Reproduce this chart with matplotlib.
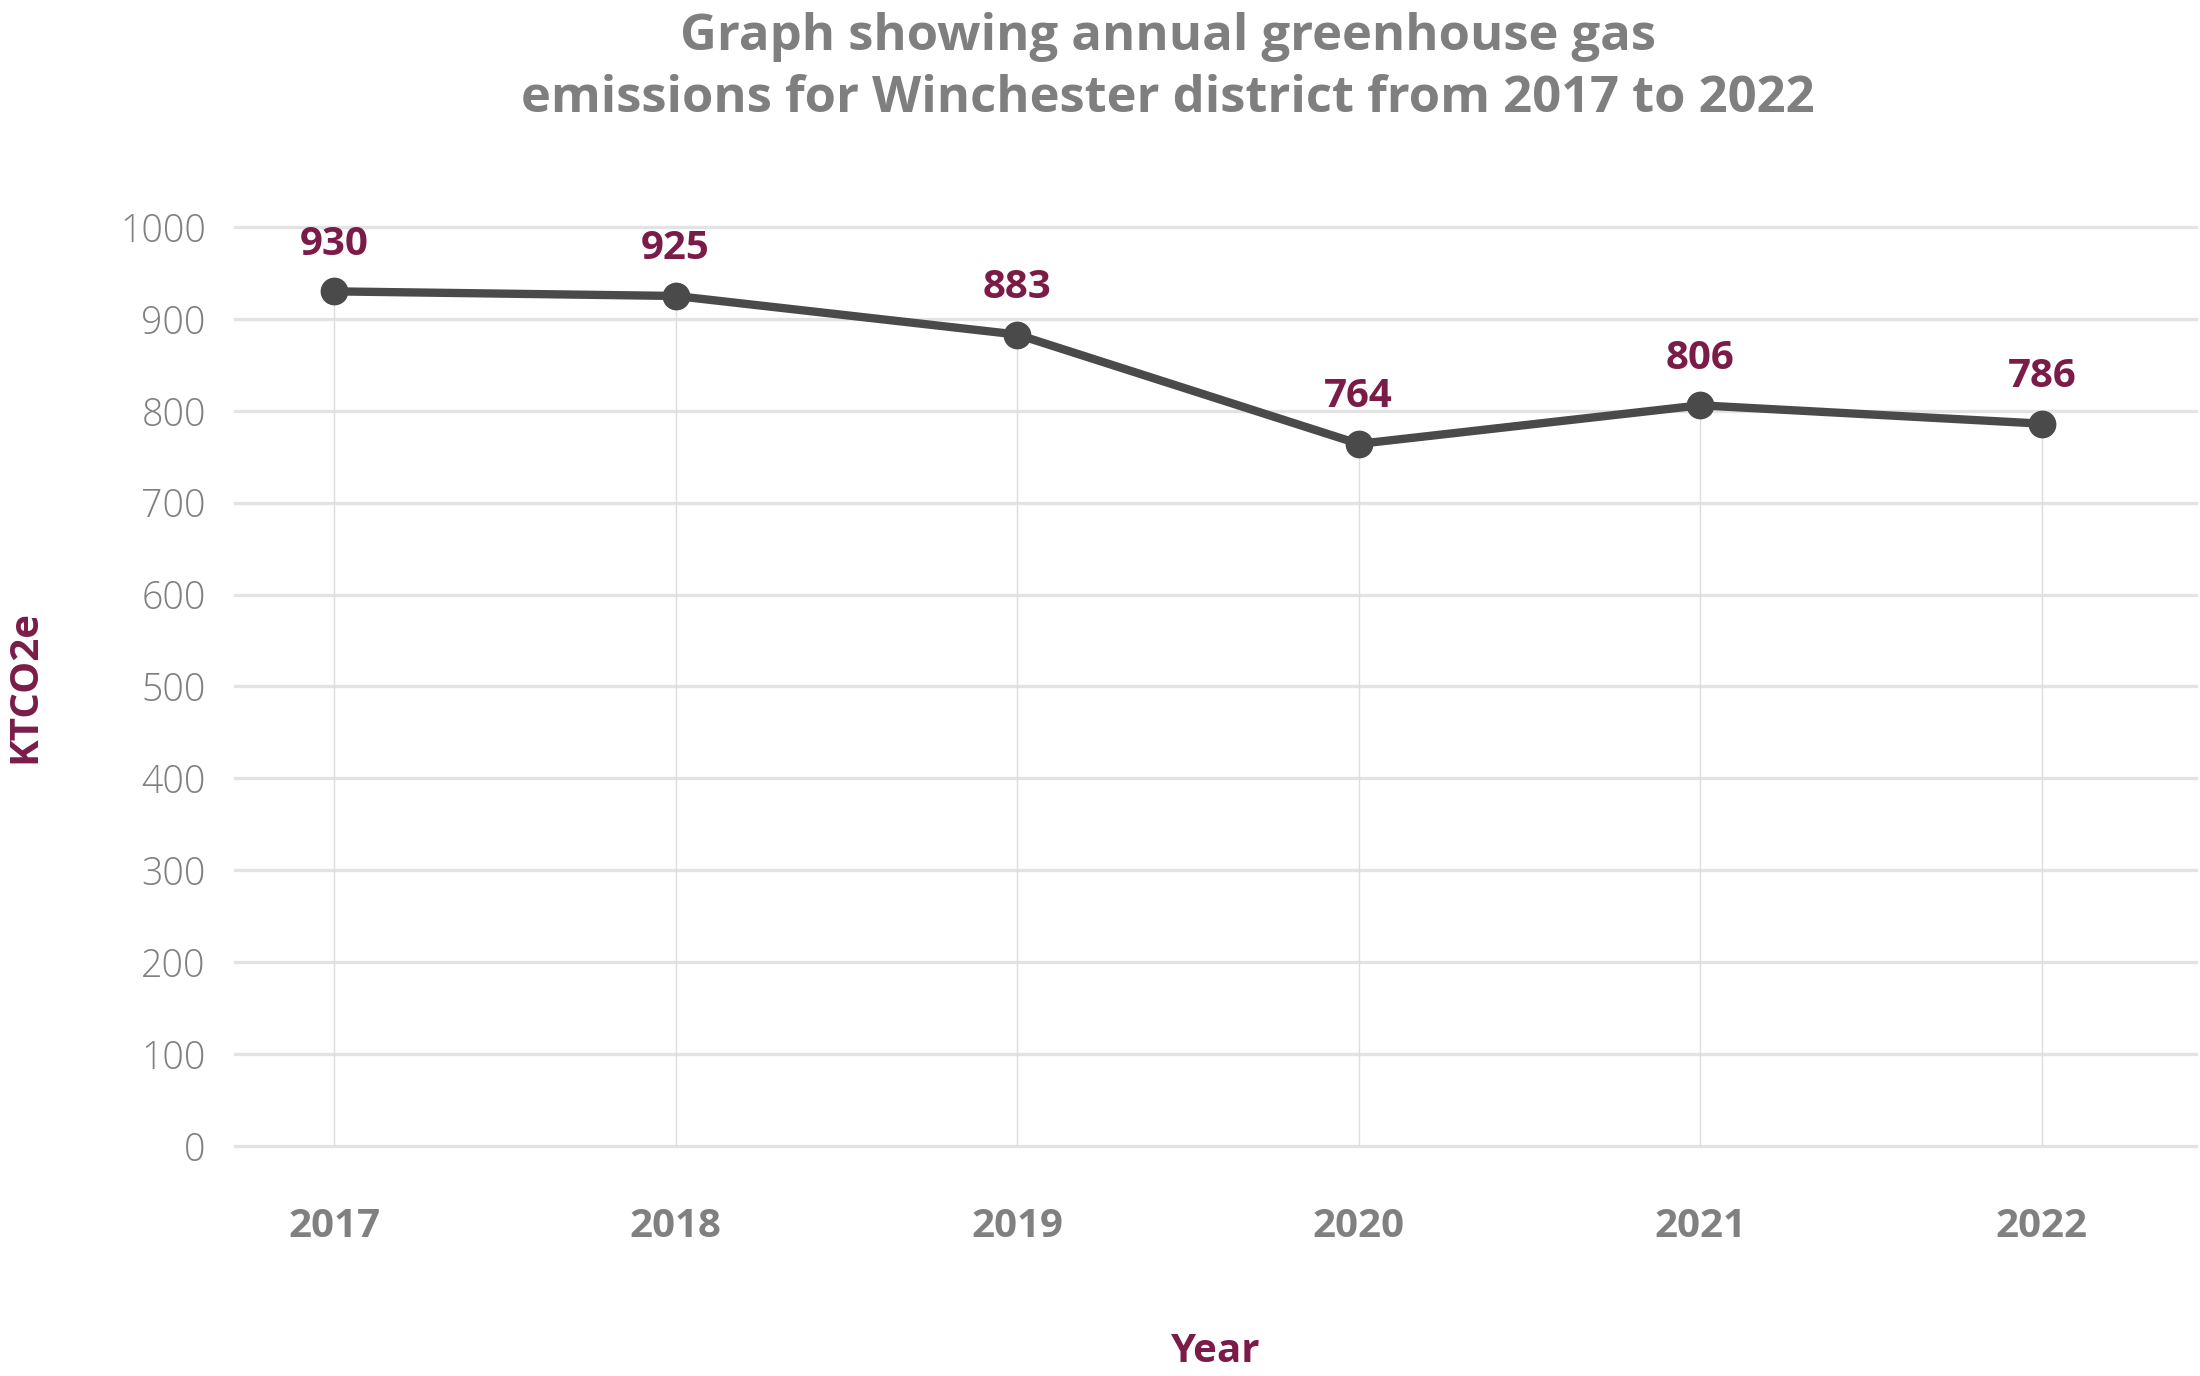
import matplotlib
matplotlib.use('Agg')
from matplotlib import pyplot as plt

years = ['2017', '2018', '2019', '2020', '2021', '2022']
emissions = [930, 925, 883, 764, 806, 786]
yticks = [0, 100, 200, 300, 400, 500, 600, 700, 800, 900, 1000]

plt.rcParams['font.family'] = ['Open Sans', 'DejaVu Sans']

maroon = '#7b1c48'
grey = '#808080'

fig = plt.figure(figsize=(22, 13.76), dpi=100)
ax = fig.add_axes([0.1068, 0.1672, 0.8912, 0.6678])

x = list(range(len(years)))

# horizontal grid
for t in yticks:
    ax.axhline(t, color='#e3e3e3', lw=2.4, zorder=0, clip_on=False)
# drop lines from each point
ax.vlines(x, 0, emissions, color='#dddddd', lw=1, zorder=1)

ax.plot(x, emissions, color='#4a4a4a', lw=6, marker='o', ms=19,
        zorder=3, clip_on=False)

for a, b in zip(x, emissions):
    ax.annotate(str(b), (a, b), xytext=(0, 20), textcoords='offset points',
                ha='center', va='bottom', fontsize=29, fontweight='bold',
                color=maroon)

ax.set_xlim(-0.29, 5.45)
ax.set_ylim(0, 1000)
ax.set_xticks(x)
ax.set_xticklabels(years, fontsize=29, fontweight='bold', color=grey)
ax.set_yticks(yticks)
ax.set_yticklabels([str(t) for t in yticks], fontsize=27, fontweight='light',
                   color=grey)
ax.tick_params(axis='both', length=0)
ax.tick_params(axis='y', pad=21)
ax.tick_params(axis='x', pad=44)
for s in ax.spines.values():
    s.set_visible(False)

ax.set_xlabel('Year', fontsize=29, fontweight='bold', color=maroon, labelpad=62)
fig.text(0.0115, 0.5 * (0.1672 + 0.835), 'KTCO2e', rotation=90, ha='center',
         va='center', fontsize=29, fontweight='bold', color=maroon)

fig.text(0.531, 0.991, 'Graph showing annual greenhouse gas\nemissions for Winchester district from 2017 to 2022',
         ha='center', va='top', fontsize=36.5, fontweight='bold', color='#7f7f7f',
         linespacing=1.3)

fig.savefig('out.png', dpi=100)
